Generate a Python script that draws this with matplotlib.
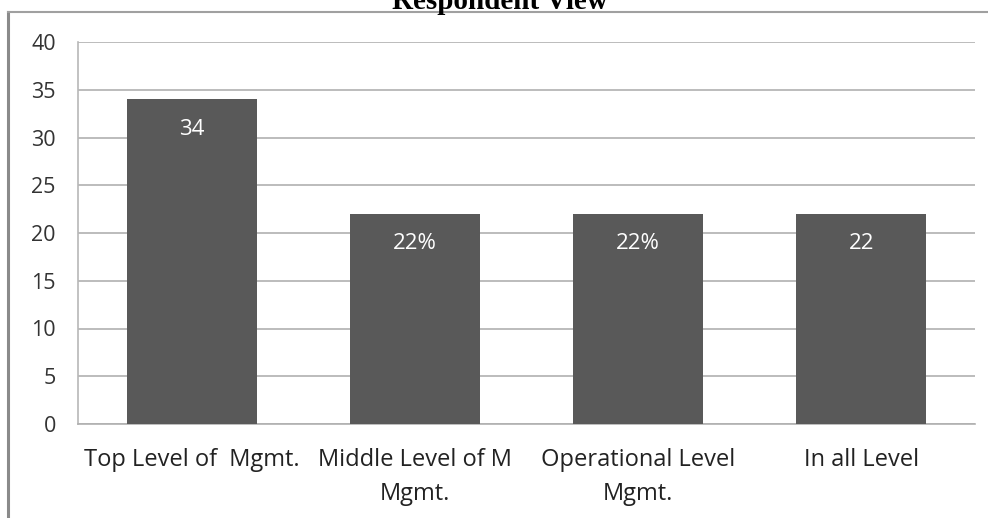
import matplotlib
matplotlib.use("Agg")
import matplotlib.pyplot as plt
from matplotlib.lines import Line2D

categories = ["Top Level of  Mgmt.", "Middle Level of M\nMgmt.", "Operational Level\nMgmt.", "In all Level"]
values = [34, 22, 22, 22]
value_labels = ["34", "22%", "22%", "22"]
yticks = [0, 5, 10, 15, 20, 25, 30, 35, 40]

plt.rcParams['font.family'] = ['Open Sans', 'DejaVu Sans']

fig = plt.figure(figsize=(9.88, 5.18), dpi=100)
ax = fig.add_axes([78/988, 1-424/518, (975-78)/988, (424-42)/518])

x = list(range(len(categories)))
bars = ax.bar(x, values, width=0.58, color='#595959', zorder=3)
for xi, v, lab in zip(x, values, value_labels):
    ax.annotate(lab, (xi, v), xytext=(0, -21.5), textcoords='offset points',
                ha='center', va='center', color='white', fontsize=16, zorder=4)

ax.set_xlim(-0.51, 3.51)
ax.set_ylim(0, 40)
ax.set_yticks(yticks)
ax.set_yticklabels([str(t) for t in yticks], fontsize=15.5, color='#333333')
ax.set_xticks(x)
ax.set_xticklabels(categories, fontsize=17, color='#222222', linespacing=1.6)
ax.tick_params(axis='both', length=0)
ax.tick_params(axis='y', pad=16)
ax.tick_params(axis='x', pad=17)
ax.yaxis.grid(True, color='#b0b0b0', linewidth=1.2, zorder=0)
ax.set_axisbelow(True)
for s in ['top', 'right']:
    ax.spines[s].set_visible(False)
ax.spines['left'].set_color('#b8b8b8')
ax.spines['bottom'].set_color('#b0b0b0')
ax.spines['left'].set_linewidth(1.2)
ax.spines['bottom'].set_linewidth(1.2)

# outer frame (left and top)
fig.add_artist(Line2D([8/988, 8/988], [0, 1-12/518], transform=fig.transFigure, color='#8a8a8a', linewidth=2.2))
fig.add_artist(Line2D([8/988, 1], [1-12/518, 1-12/518], transform=fig.transFigure, color='#a0a0a0', linewidth=1.5))

fig.text(500/988, 1-9/518, "Respondent View", ha='center', va='baseline',
         fontsize=21, fontweight='bold', family=['Liberation Serif', 'DejaVu Serif'])

fig.savefig("out.png", dpi=100)
